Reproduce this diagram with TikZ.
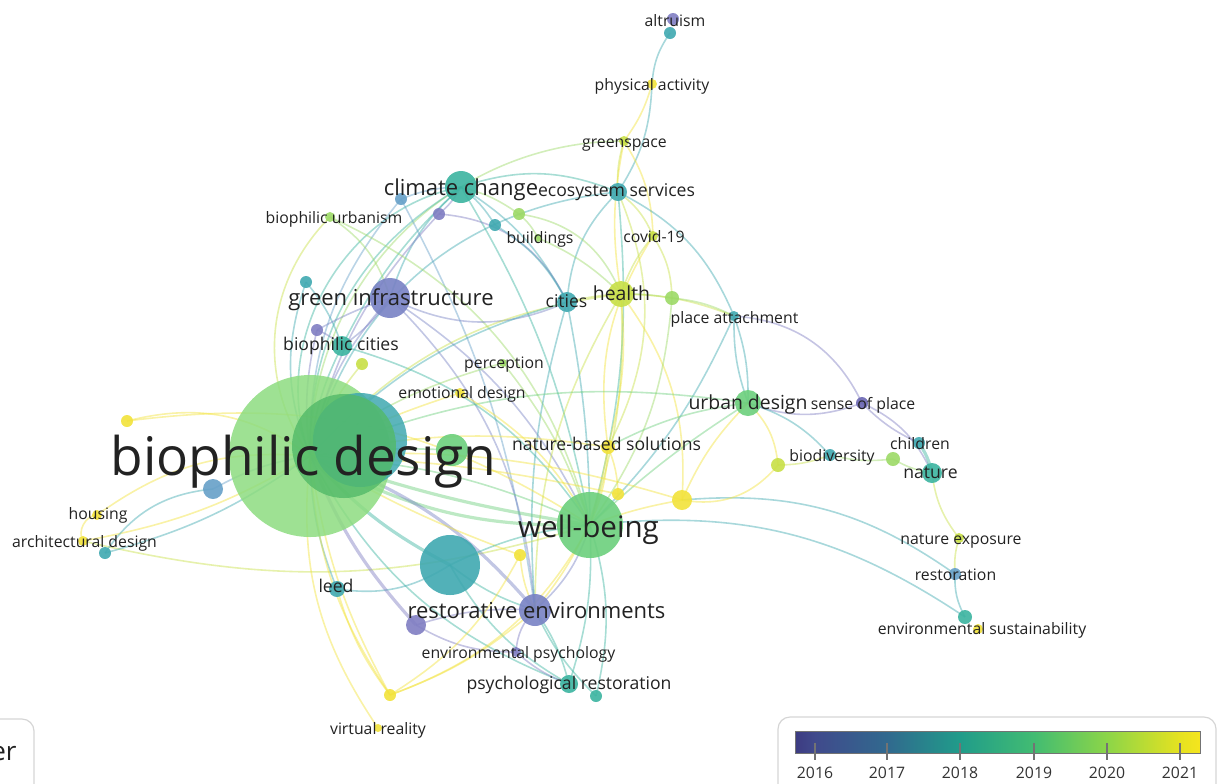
\documentclass[tikz,border=0pt]{standalone}
\usepackage{fontspec}
\setmainfont{Open Sans}
\usetikzlibrary{backgrounds}
% overlay palette (viridis-like, washed)
\definecolor{vPur}{HTML}{7F7DC2}
\definecolor{vDPur}{HTML}{6A66B2}
\definecolor{vBP}{HTML}{7882C4}
\definecolor{vBlue}{HTML}{66A0C8}
\definecolor{vTeal}{HTML}{3FA8B0}
\definecolor{vTG}{HTML}{3BB4A0}
\definecolor{vGreen}{HTML}{6CCF7C}
\definecolor{vDGreen}{HTML}{52BA68}
\definecolor{vLGreen}{HTML}{8DDC80}
\definecolor{vLG}{HTML}{9CD966}
\definecolor{vYG}{HTML}{C8DF46}
\definecolor{vYel}{HTML}{F2E23A}
\definecolor{txt}{HTML}{222222}
\definecolor{frame}{HTML}{D5D5D5}
\tikzset{
  kw/.style={circle, inner sep=0pt, fill=#1, fill opacity=0.9},
  ed/.style={draw=#1, line width=0.8pt, opacity=0.45},
  edw/.style={draw=#1, line width=1.6pt, opacity=0.45},
  lab/.style={inner sep=0pt, text depth=0pt, text=txt},
  fXL/.style={lab, font=\fontsize{26.6}{30}\selectfont, text height=20.2pt},
  fL/.style={lab, font=\fontsize{14.8}{17}\selectfont, text height=11.25pt},
  fM/.style={lab, font=\fontsize{11}{13}\selectfont, text height=8.36pt},
  fMS/.style={lab, font=\fontsize{9.7}{12}\selectfont, text height=7.37pt},
  fS/.style={lab, font=\fontsize{8.8}{11}\selectfont, text height=6.69pt},
  fXS/.style={lab, font=\fontsize{7.9}{10}\selectfont, text height=6pt},
}
\begin{document}
\begin{tikzpicture}[x=0.5pt,y=-0.5pt]
\useasboundingbox (0,0) rectangle (1224,783);

% ---------- keyword circles ----------
\node[kw=vLGreen, fill opacity=0.85, minimum size=81pt] (bd) at (310,456) {};
\node[kw=vTeal, fill opacity=0.85, minimum size=47pt] (bp) at (360,440) {};
\node[kw=vDGreen, fill opacity=0.8, minimum size=52pt] (bs) at (344,446) {};
\node[kw=vGreen, minimum size=16pt] (g1) at (452,450) {};
\node[kw=vBlue, minimum size=10pt] (bl1) at (213,489) {};
\node[kw=vYel, minimum size=6pt] (y1) at (127,421) {};
\node[kw=vYel, minimum size=5pt] (hou) at (97,515) {};
\node[kw=vYel, minimum size=5pt] (ard) at (83,541) {};
\node[kw=vTeal, minimum size=6pt] (tl1) at (105,553) {};
\node[kw=vTeal, minimum size=8pt] (leed) at (337,589) {};
\node[kw=vTeal, minimum size=30pt] (tb) at (450,565) {};
\node[kw=vBP, minimum size=16pt] (re) at (535,610) {};
\node[kw=vPur, minimum size=10pt] (pu1) at (416,625) {};
\node[kw=vPur, minimum size=5pt] (ep) at (516,652) {};
\node[kw=vTG, minimum size=9pt] (pr) at (569,684) {};
\node[kw=vTG, minimum size=6pt] (tl2) at (596,696) {};
\node[kw=vYel, minimum size=6pt] (vr) at (390,695) {};
\node[kw=vYel, minimum size=4pt] (vrd) at (378,728) {};
\node[kw=vGreen, minimum size=33pt] (wb) at (590,525) {};
\node[kw=vYel, minimum size=6pt] (y2) at (520,555) {};
\node[kw=vYel, minimum size=6pt] (y3) at (618,494) {};
\node[kw=vYel, minimum size=10pt] (y4) at (682,500) {};
\node[kw=vYel, minimum size=7pt] (nbs) at (608,447) {};
\node[kw=vYel, minimum size=5pt] (emo) at (460,393) {};
\node[kw=vLG, minimum size=4pt] (per) at (503,363) {};
\node[kw=vYG, minimum size=6pt] (yg1) at (362,364) {};
\node[kw=vTG, minimum size=10pt] (bc) at (342,346) {};
\node[kw=vPur, minimum size=6pt] (pu2) at (317,330) {};
\node[kw=vTeal, minimum size=6pt] (tl3) at (306,282) {};
\node[kw=vBP, minimum size=20pt] (gi) at (390,298) {};
\node[kw=vLG, minimum size=5pt] (bu) at (330,217) {};
\node[kw=vTG, minimum size=16pt] (cc) at (461,187) {};
\node[kw=vBlue, minimum size=6pt] (bl2) at (401,199) {};
\node[kw=vPur, minimum size=6pt] (pu3) at (439,214) {};
\node[kw=vTeal, minimum size=6pt] (tl4) at (495,225) {};
\node[kw=vLG, minimum size=6pt] (g2) at (519,214) {};
\node[kw=vLG, minimum size=4pt] (bld) at (538,238) {};
\node[kw=vTeal, minimum size=9pt] (es) at (618,192) {};
\node[kw=vYG, minimum size=5pt] (gs) at (624,141) {};
\node[kw=vYel, minimum size=5pt] (pa) at (652,84) {};
\node[kw=vPur, minimum size=6pt] (alt) at (673,19) {};
\node[kw=vTeal, minimum size=6pt] (tl5) at (670,33) {};
\node[kw=vYG, minimum size=5pt] (cov) at (653,236) {};
\node[kw=vYG, minimum size=13pt] (he) at (621,294) {};
\node[kw=vTeal, minimum size=10pt] (ci) at (567,302) {};
\node[kw=vLG, minimum size=7pt] (g3) at (672,298) {};
\node[kw=vTeal, minimum size=5pt] (pat) at (734,316) {};
\node[kw=vGreen, minimum size=13pt] (ud) at (748,403) {};
\node[kw=vDPur, minimum size=6pt] (sop) at (862,403) {};
\node[kw=vTeal, minimum size=6pt] (bio) at (830,455) {};
\node[kw=vYG, minimum size=7pt] (yg2) at (778,465) {};
\node[kw=vLG, minimum size=7pt] (g4) at (893,459) {};
\node[kw=vTeal, minimum size=6pt] (chi) at (919,443) {};
\node[kw=vTG, minimum size=10pt] (nat) at (932,473) {};
\node[kw=vYG, minimum size=5pt] (nex) at (959,538) {};
\node[kw=vBlue, minimum size=6pt] (rest) at (955,574) {};
\node[kw=vTG, minimum size=7pt] (envs) at (965,617) {};
\node[kw=vYel, minimum size=5pt] (y5) at (978,629) {};

% ---------- links ----------
\begin{scope}[on background layer]
% top chain
\draw[ed=vTeal] (tl5.center) to[bend right=15] (pa.center);
\draw[ed=vYel] (pa.center) to[bend left=10] (gs.center);
\draw[ed=vTeal] (pa.center) to[bend left=15] (es.center);
\draw[ed=vYG] (gs.center) to[bend right=10] (es.center);
\draw[ed=vYel] (gs.center) to[bend left=15] (cov.center);
\draw[ed=vYel] (gs.center) to[bend right=10] (he.center);
\draw[ed=vLG] (gs.center) to[bend right=45] (bd.center);
\draw[ed=vTG] (es.center) to[bend right=20] (cc.center);
\draw[ed=vTeal] (es.center) to[bend right=20] (ci.center);
\draw[ed=vYG] (es.center) to[bend left=15] (cov.center);
\draw[ed=vTeal] (es.center) to[bend left=20] (pat.center);
\draw[ed=vTeal] (es.center) to[bend right=35] (bd.center);
\draw[ed=vTG] (es.center) to[bend left=10] (wb.center);
\draw[ed=vYG] (es.center) to[bend left=25] (nbs.center);
% climate change group
\draw[ed=vTG] (cc.center) to[bend right=30] (bd.center);
\draw[ed=vTG] (cc.center) to[bend right=50] (bd.center);
\draw[ed=vTeal] (cc.center) to[bend right=15] (gi.center);
\draw[ed=vBlue] (cc.center) to[bend right=10] (bl2.center);
\draw[ed=vPur] (cc.center) to[bend left=10] (pu3.center);
\draw[ed=vTeal] (cc.center) to[bend left=10] (tl4.center);
\draw[ed=vLG] (cc.center) to[bend left=10] (g2.center);
\draw[ed=vTG] (cc.center) to[bend right=10] (bc.center);
\draw[ed=vTeal] (cc.center) to[bend left=15] (ci.center);
\draw[ed=vTG] (cc.center) to[bend left=10] (wb.center);
\draw[ed=vBlue] (bl2.center) to[bend right=20] (bd.center);
\draw[ed=vBlue] (bl2.center) to[bend left=10] (re.center);
\draw[ed=vPur] (pu3.center) to[bend right=15] (bd.center);
\draw[ed=vPur] (pu3.center) to[bend left=30] (ci.center);
\draw[ed=vTeal] (tl4.center) to[bend left=15] (ci.center);
\draw[ed=vLG] (g2.center) to[bend left=10] (bld.center);
\draw[ed=vLG] (bld.center) to[bend left=10] (he.center);
\draw[ed=vLG] (g2.center) to[bend left=30] (he.center);
% green infrastructure group
\draw[ed=vYG] (bu.center) to[bend right=40] (bd.center);
\draw[ed=vLG] (bu.center) to[bend left=20] (gi.center);
\draw[ed=vLG] (bu.center) to[bend left=25] (wb.center);
\draw[ed=vTeal] (tl3.center) to[bend left=10] (bc.center);
\draw[ed=vTeal] (tl3.center) to[bend right=20] (bd.center);
\draw[ed=vBP] (gi.center) to[bend right=15] (bd.center);
\draw[ed=vBP] (gi.center) to[bend left=10] (bc.center);
\draw[ed=vBP] (gi.center) to[bend right=5] (pu2.center);
\draw[ed=vBP] (gi.center) to[bend right=25] (ci.center);
\draw[ed=vBP] (gi.center) to[bend left=20] (re.center);
\draw[ed=vBP] (gi.center) to[bend left=15] (wb.center);
\draw[ed=vPur] (pu2.center) to[bend left=10] (bc.center);
\draw[ed=vPur] (pu2.center) to[bend right=10] (bd.center);
\draw[ed=vTG] (bc.center) to[bend right=10] (bd.center);
\draw[ed=vTG] (bc.center) to[bend left=20] (wb.center);
\draw[ed=vYG] (yg1.center) to[bend right=10] (bd.center);
% health / cities
\draw[ed=vYG] (cov.center) to[bend right=10] (he.center);
\draw[ed=vYG] (cov.center) to[bend left=15] (g3.center);
\draw[ed=vYel] (cov.center) to[bend right=20] (nbs.center);
\draw[ed=vYG] (he.center) to[bend right=5] (ci.center);
\draw[ed=vLG] (he.center) to[bend left=5] (g3.center);
\draw[ed=vYG] (he.center) to[bend left=10] (pat.center);
\draw[ed=vYG] (he.center) to[bend right=20] (bd.center);
\draw[ed=vYG] (he.center) to[bend left=10] (wb.center);
\draw[ed=vYel] (he.center) to[bend left=10] (nbs.center);
\draw[ed=vYG] (he.center) to[bend right=15] (re.center);
\draw[ed=vYel] (he.center) to[bend left=20] (y4.center);
\draw[ed=vLG] (g3.center) to[bend left=10] (pat.center);
\draw[ed=vLG] (g3.center) to[bend left=15] (wb.center);
\draw[ed=vTeal] (ci.center) to[bend right=15] (bd.center);
\draw[ed=vTeal] (ci.center) to[bend left=5] (wb.center);
\draw[ed=vTeal] (ci.center) to[bend right=10] (re.center);
% urban design / nature cluster
\draw[ed=vTeal] (pat.center) to[bend right=10] (ud.center);
\draw[ed=vTeal] (pat.center) to[bend left=10] (ud.center);
\draw[ed=vPur] (pat.center) to[bend left=30] (sop.center);
\draw[ed=vTeal] (pat.center) to[bend left=10] (wb.center);
\draw[ed=vPur] (ud.center) to[bend right=20] (sop.center);
\draw[ed=vTeal] (ud.center) to[bend left=15] (bio.center);
\draw[ed=vYel] (ud.center) to[bend left=20] (yg2.center);
\draw[ed=vGreen] (ud.center) to[bend right=10] (nbs.center);
\draw[ed=vGreen] (ud.center) to[bend right=5] (wb.center);
\draw[ed=vGreen] (ud.center) to[bend right=15] (bd.center);
\draw[ed=vYel] (ud.center) to[bend right=10] (y4.center);
\draw[ed=vPur] (sop.center) to[bend right=10] (chi.center);
\draw[ed=vPur] (sop.center) to[bend left=20] (nat.center);
\draw[ed=vLG] (bio.center) to[bend right=10] (g4.center);
\draw[ed=vYG] (bio.center) to[bend left=10] (yg2.center);
\draw[ed=vLG] (g4.center) to[bend right=10] (nat.center);
\draw[edw=vTG] (chi.center) to[bend left=10] (nat.center);
\draw[ed=vYG] (nat.center) to[bend right=15] (nex.center);
\draw[ed=vYG] (nex.center) to[bend right=10] (rest.center);
\draw[ed=vTeal] (rest.center) to[bend right=15] (envs.center);
\draw[ed=vTeal] (y4.center) to[bend left=20] (rest.center);
\draw[ed=vTeal] (wb.center) to[bend left=20] (envs.center);
\draw[ed=vYel] (y4.center) to[bend right=30] (yg2.center);
\draw[ed=vYel] (wb.center) to[bend left=5] (y4.center);
\draw[ed=vYel] (y4.center) to[bend right=10] (bd.center);
% well-being / restorative cluster
\draw[ed=vYel] (nbs.center) to[bend right=10] (bd.center);
\draw[ed=vYel] (nbs.center) to[bend left=10] (wb.center);
\draw[ed=vYel] (nbs.center) to[bend left=10] (y3.center);
\draw[ed=vYel] (nbs.center) to[bend left=15] (re.center);
\draw[ed=vYel] (emo.center) to[bend right=5] (bd.center);
\draw[ed=vYel] (emo.center) to[bend left=15] (wb.center);
\draw[ed=vLG] (per.center) to[bend right=10] (bd.center);
\draw[ed=vLG] (per.center) to[bend left=10] (wb.center);
\draw[ed=vYel] (y1.center) to[bend left=25] (bd.center);
\draw[ed=vYel] (y1.center) to[bend left=20] (wb.center);
\draw[ed=vYel] (hou.center) to[bend left=20] (bd.center);
\draw[ed=vYel] (ard.center) to[bend right=10] (bd.center);
\draw[ed=vYel] (hou.center) to[bend right=60] (ard.center);
\draw[ed=vYG] (ard.center) to[bend right=15] (wb.center);
\draw[ed=vTeal] (tl1.center) to[bend left=25] (bl1.center);
\draw[ed=vTeal] (tl1.center) to[bend right=10] (bd.center);
\draw[ed=vBlue] (bl1.center) to[bend left=10] (bd.center);
\draw[edw=vGreen] (bd.center) to[bend right=15] (wb.center);
\draw[edw=vGreen] (bd.center) to[bend right=5] (wb.center);
\draw[ed=vGreen] (bd.center) to[bend left=10] (wb.center);
\draw[edw=vTG] (bd.center) to[bend right=10] (tb.center);
\draw[edw=vBP] (bd.center) to[bend left=15] (re.center);
\draw[ed=vTeal] (bd.center) to[bend right=10] (leed.center);
\draw[ed=vYel] (bd.center) to[bend right=15] (vr.center);
\draw[ed=vTG] (bd.center) to[bend right=20] (pr.center);
\draw[ed=vYel] (bd.center) to[bend right=5] (y2.center);
\draw[ed=vYel] (bd.center) to[bend left=5] (y3.center);
\draw[ed=vGreen] (bd.center) to[bend left=5] (g1.center);
\draw[ed=vTG] (tb.center) to[bend left=10] (wb.center);
\draw[ed=vTG] (tb.center) to[bend right=10] (re.center);
\draw[ed=vTeal] (tb.center) to[bend left=20] (leed.center);
\draw[ed=vTG] (tb.center) to[bend right=15] (pr.center);
\draw[ed=vPur] (re.center) to[bend right=20] (ep.center);
\draw[ed=vTG] (re.center) to[bend left=10] (pr.center);
\draw[ed=vPur] (re.center) to[bend right=10] (pu1.center);
\draw[ed=vBP] (re.center) to[bend right=15] (wb.center);
\draw[ed=vYel] (re.center) to[bend left=10] (y2.center);
\draw[ed=vPur] (pu1.center) to[bend right=15] (ep.center);
\draw[edw=vPur] (pu1.center) to[bend left=10] (bd.center);
\draw[ed=vTG] (pr.center) to[bend right=10] (wb.center);
\draw[ed=vTG] (tl2.center) to[bend right=15] (wb.center);
\draw[ed=vPur] (pr.center) to[bend left=10] (ep.center);
\draw[ed=vTG] (tl2.center) to[bend left=10] (re.center);
\draw[ed=vYel] (vr.center) to[bend left=10] (bd.center);
\draw[ed=vYel] (vr.center) to[bend right=20] (wb.center);
\draw[ed=vYel] (vr.center) to[bend right=10] (re.center);
\draw[ed=vYel] (vr.center) to[bend left=10] (leed.center);
\draw[ed=vYel] (vr.center) to[bend right=15] (y2.center);
\draw[ed=vYel] (vrd.center) to[bend left=20] (bd.center);
\end{scope}

% ---------- labels ----------
\node[fXL] (t-bd) at (303.5,455) {biophilic design};
\node[fL] (t-wb) at (588.5,526) {well-being};
\node[fM] (t-gi) at (391,297) {green infrastructure};
\node[fM] (t-re) at (536.5,610) {restorative environments};
\node[fM] (t-cc) at (461,187) {climate change};
\node[fMS] (t-ud) at (748,402) {urban design};
\node[fMS] (t-he) at (621.5,293) {health};
\node[fS] (t-nbs) at (606.5,444) {nature-based solutions};
\node[fS] (t-pr) at (569,683) {psychological restoration};
\node[fS] (t-es) at (616.5,190) {ecosystem services};
\node[fS] (t-ci) at (566.5,301) {cities};
\node[fS] (t-nat) at (930.5,472) {nature};
\node[fS] (t-bc) at (341,344) {biophilic cities};
\node[fS] (t-leed) at (336,586) {leed};
\node[fXS] (t-alt) at (675,20) {altruism};
\node[fXS] (t-pa) at (652,84) {physical activity};
\node[fXS] (t-gs) at (624.5,141) {greenspace};
\node[fXS] (t-bu) at (334,217) {biophilic urbanism};
\node[fXS] (t-bld) at (540,237) {buildings};
\node[fXS] (t-cov) at (654,236) {covid-19};
\node[fXS] (t-pat) at (734.5,317) {place attachment};
\node[fXS] (t-per) at (504,362) {perception};
\node[fXS] (t-emo) at (462,392) {emotional design};
\node[fXS] (t-sop) at (863,403) {sense of place};
\node[fXS] (t-bio) at (832,455) {biodiversity};
\node[fXS] (t-chi) at (920,443) {children};
\node[fXS] (t-hou) at (98,513) {housing};
\node[fXS] (t-ard) at (84.5,541) {architectural design};
\node[fXS] (t-nex) at (961,538) {nature exposure};
\node[fXS] (t-rest) at (955.5,574) {restoration};
\node[fXS] (t-envs) at (982,628) {environmental sustainability};
\node[fXS] (t-ep) at (518.5,652) {environmental psychology};
\node[fXS] (t-vr) at (378,728) {virtual reality};

% ---------- colour scale ----------
\draw[frame, line width=0.6pt, rounded corners=6pt] (778,717) rectangle (1216,810);
\shade[left color={rgb,255:red,61;green,59;blue,130}, right color={rgb,255:red,64;green,74;blue,140}] (795,731) rectangle (815,753);
\shade[left color={rgb,255:red,64;green,74;blue,140}, right color={rgb,255:red,49;green,105;blue,142}] (815,731) rectangle (887,753);
\shade[left color={rgb,255:red,49;green,105;blue,142}, right color={rgb,255:red,32;green,156;blue,138}] (887,731) rectangle (960,753);
\shade[left color={rgb,255:red,32;green,156;blue,138}, right color={rgb,255:red,66;green,188;blue,114}] (960,731) rectangle (1034,753);
\shade[left color={rgb,255:red,66;green,188;blue,114}, right color={rgb,255:red,140;green,213;blue,72}] (1034,731) rectangle (1107,753);
\shade[left color={rgb,255:red,140;green,213;blue,72}, right color={rgb,255:red,230;green,226;blue,32}] (1107,731) rectangle (1180,753);
\shade[left color={rgb,255:red,230;green,226;blue,32}, right color={rgb,255:red,245;green,229;blue,30}] (1180,731) rectangle (1200,753);
\node[draw=black!55, line width=0.5pt, inner sep=0pt, minimum width=202.5pt, minimum height=11pt] (bar) at (997.5,742) {};
\foreach \x/\yr in {815/2016, 887/2017, 960/2018, 1034/2019, 1107/2020, 1180/2021}{
  \draw[black!55, line width=0.6pt] (\x,743) -- (\x,760);
  \node[lab, font=\fontsize{7.9}{10}\selectfont, text height=6pt, text=black!80] (yr\yr) at (\x,772) {\yr};
}

% ---------- panel at the lower left ----------
\draw[frame, line width=0.6pt, rounded corners=6pt] (-20,719) rectangle (34,810);
\node[anchor=base east, inner sep=0pt, font=\fontsize{13}{16}\selectfont, text=txt] (btn) at (17,760) {er};
\end{tikzpicture}
\end{document}
